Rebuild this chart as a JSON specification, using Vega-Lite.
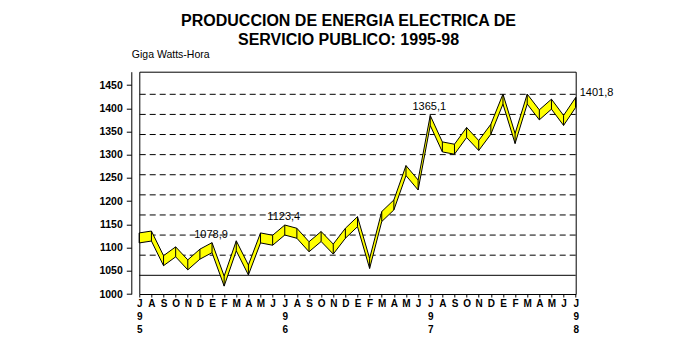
{
  "$schema": "https://vega.github.io/schema/vega-lite/v6.json",
  "width": 436.4,
  "height": 222.3,
  "autosize": {"type": "none"},
  "padding": {"left": 139.3, "top": 71.7, "right": 124.3, "bottom": 58},
  "background": "white",
  "config": {
    "view": {"stroke": "black", "strokeWidth": 1},
    "font": "Liberation Sans"
  },
  "title": {
    "text": ["PRODUCCION DE ENERGIA ELECTRICA DE", "SERVICIO PUBLICO: 1995-98"],
    "font": "Liberation Sans",
    "fontSize": 16,
    "fontWeight": "bold",
    "color": "black",
    "lineHeight": 19,
    "anchor": "middle",
    "frame": "group",
    "dx": -9,
    "offset": 2
  },
  "data": {
    "values": [
      {"mes": "1995-07", "valor": 1110},
      {"mes": "1995-08", "valor": 1114},
      {"mes": "1995-09", "valor": 1061},
      {"mes": "1995-10", "valor": 1080},
      {"mes": "1995-11", "valor": 1052},
      {"mes": "1995-12", "valor": 1075},
      {"mes": "1996-01", "valor": 1089, "etiqueta": "1078,9"},
      {"mes": "1996-02", "valor": 1017},
      {"mes": "1996-03", "valor": 1093},
      {"mes": "1996-04", "valor": 1041},
      {"mes": "1996-05", "valor": 1110},
      {"mes": "1996-06", "valor": 1105},
      {"mes": "1996-07", "valor": 1127, "etiqueta": "1123,4"},
      {"mes": "1996-08", "valor": 1120},
      {"mes": "1996-09", "valor": 1091},
      {"mes": "1996-10", "valor": 1113},
      {"mes": "1996-11", "valor": 1086},
      {"mes": "1996-12", "valor": 1120},
      {"mes": "1997-01", "valor": 1145},
      {"mes": "1997-02", "valor": 1055},
      {"mes": "1997-03", "valor": 1156},
      {"mes": "1997-04", "valor": 1181},
      {"mes": "1997-05", "valor": 1255},
      {"mes": "1997-06", "valor": 1224},
      {"mes": "1997-07", "valor": 1363, "etiqueta": "1365,1"},
      {"mes": "1997-08", "valor": 1306},
      {"mes": "1997-09", "valor": 1301},
      {"mes": "1997-10", "valor": 1337},
      {"mes": "1997-11", "valor": 1309},
      {"mes": "1997-12", "valor": 1344},
      {"mes": "1998-01", "valor": 1409},
      {"mes": "1998-02", "valor": 1324},
      {"mes": "1998-03", "valor": 1409},
      {"mes": "1998-04", "valor": 1375},
      {"mes": "1998-05", "valor": 1398},
      {"mes": "1998-06", "valor": 1363},
      {"mes": "1998-07", "valor": 1401.8, "etiqueta": "1401,8"}
    ]
  },
  "resolve": {"scale": {"y": "independent"}},
  "layer": [
    {
      "data": {"values": [{"g": 1050}, {"g": 1100}, {"g": 1150}, {"g": 1200}, {"g": 1250}, {"g": 1300}, {"g": 1350}, {"g": 1400}, {"g": 1450}]},
      "mark": {"type": "rule", "color": "black", "strokeWidth": 1, "strokeDash": [6, 4]},
      "encoding": {
        "y": {"field": "g", "type": "quantitative", "scale": {"domain": [953.5, 1506.2], "nice": false, "zero": false}, "axis": null}
      }
    },
    {
      "data": {"values": [{"g": 1000}]},
      "mark": {"type": "rule", "color": "black", "strokeWidth": 1},
      "encoding": {
        "y": {"field": "g", "type": "quantitative", "scale": {"domain": [953.5, 1506.2], "nice": false, "zero": false}, "axis": null}
      }
    },
    {
      "mark": {"type": "area", "fill": "#FFFF00", "stroke": "black", "strokeWidth": 1, "opacity": 1, "fillOpacity": 1, "interpolate": "linear", "y2Offset": -10},
      "encoding": {
        "x": {
          "field": "mes", "type": "ordinal", "sort": null,
          "scale": {"type": "point", "padding": 0},
          "axis": {
            "title": null,
            "labelExpr": "substring(datum.value,5,7)=='07' ? ['J', substring(datum.value,2,3), substring(datum.value,3,4)] : ['E','F','M','A','M','J','J','A','S','O','N','D'][parseInt(substring(datum.value,5,7),10)-1]",
            "labelAngle": 0,
            "labelFont": "Liberation Sans",
            "labelFontSize": 10,
            "labelFontWeight": "bold",
            "labelColor": "black",
            "labelLineHeight": 13,
            "labelPadding": 1,
            "labelOverlap": false,
            "labelBound": false,
            "labelFlush": false,
            "tickSize": 3,
            "tickColor": "black",
            "domain": false,
            "grid": false
          }
        },
        "y": {
          "field": "valor", "type": "quantitative",
          "scale": {"domain": [1000, 1478.7], "nice": false, "zero": false},
          "axis": {
            "title": "Giga Watts-Hora",
            "titleAngle": 0,
            "titleAlign": "left",
            "titleBaseline": "alphabetic",
            "titleX": 0,
            "titleY": -14,
            "titleFont": "Liberation Sans",
            "titleFontSize": 10.5,
            "titleFontWeight": "normal",
            "titleColor": "black",
            "values": [1000, 1050, 1100, 1150, 1200, 1250, 1300, 1350, 1400, 1450],
            "format": "d",
            "offset": 8,
            "tickSize": 5,
            "tickColor": "black",
            "labelPadding": 4,
            "labelFont": "Liberation Sans",
            "labelFontSize": 10.5,
            "labelFontWeight": "bold",
            "labelColor": "black",
            "labelOverlap": false,
            "labelFlush": false,
            "domainColor": "black",
            "grid": false
          }
        },
        "y2": {"field": "valor"}
      }
    },
    {
      "mark": {"type": "rule", "color": "black", "strokeWidth": 1, "y2Offset": -10},
      "encoding": {
        "x": {"field": "mes", "type": "ordinal", "sort": null, "scale": {"type": "point", "padding": 0}},
        "y": {"field": "valor", "type": "quantitative", "scale": {"domain": [1000, 1478.7], "nice": false, "zero": false}, "axis": null},
        "y2": {"field": "valor"}
      }
    },
    {
      "transform": [{"filter": "datum.etiqueta && datum.mes != '1998-07'"}],
      "mark": {"type": "text", "font": "Liberation Sans", "fontSize": 11, "color": "black", "align": "center", "baseline": "alphabetic", "dx": -1, "dy": -15},
      "encoding": {
        "x": {"field": "mes", "type": "ordinal", "sort": null, "scale": {"type": "point", "padding": 0}},
        "y": {"field": "valor", "type": "quantitative", "scale": {"domain": [1000, 1478.7], "nice": false, "zero": false}, "axis": null},
        "text": {"field": "etiqueta"}
      }
    },
    {
      "transform": [{"filter": "datum.mes == '1998-07'"}],
      "mark": {"type": "text", "font": "Liberation Sans", "fontSize": 11, "color": "black", "align": "left", "baseline": "alphabetic", "dx": 4, "dy": -11},
      "encoding": {
        "x": {"field": "mes", "type": "ordinal", "sort": null, "scale": {"type": "point", "padding": 0}},
        "y": {"field": "valor", "type": "quantitative", "scale": {"domain": [1000, 1478.7], "nice": false, "zero": false}, "axis": null},
        "text": {"field": "etiqueta"}
      }
    }
  ]
}
